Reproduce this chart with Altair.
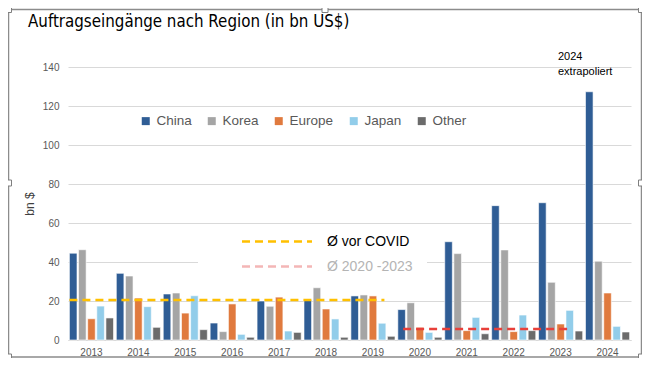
import altair as alt
import pandas as pd

years = ["2013", "2014", "2015", "2016", "2017", "2018", "2019", "2020", "2021", "2022", "2023", "2024"]
regions = ["China", "Korea", "Europe", "Japan", "Other"]
china = [44.5, 34.2, 23.6, 8.7, 20.0, 20.3, 22.6, 15.6, 50.4, 68.9, 70.4, 127.3]
korea = [46.3, 32.8, 24.1, 4.3, 17.3, 26.8, 23.1, 19.1, 44.3, 46.2, 29.6, 40.4]
europe = [10.9, 21.5, 13.8, 18.5, 22.0, 15.9, 22.6, 6.5, 4.8, 4.3, 8.2, 24.1]
japan = [17.4, 17.1, 22.7, 2.9, 4.6, 10.8, 8.6, 3.9, 11.6, 12.8, 15.2, 7.0]
other = [11.3, 6.5, 5.3, 1.4, 3.9, 1.4, 1.9, 1.4, 3.2, 4.8, 4.6, 4.1]
colors = ["#2F5D95", "#A5A5A5", "#E07A3E", "#92CDEA", "#6B6B6B"]
y_ticks = [0, 20, 40, 60, 80, 100, 120, 140]

avg_labels = ["Ø vor COVID", "Ø 2020 -2023"]
avg_values = [20.5, 5.6]
avg_start = ["2013", "2020"]
avg_end = ["2019", "2023"]

series = {"China": china, "Korea": korea, "Europe": europe, "Japan": japan, "Other": other}
rows = []
for r in regions:
    for y, v in zip(years, series[r]):
        rows.append({"year": y, "region": r, "value": v})
df = pd.DataFrame(rows)

FONT = "Liberation Sans"
TFONT = "'DejaVu Sans Condensed', Roboto, sans-serif"
W, H = 563, 273

xscale = alt.Scale(domain=years, paddingInner=0.06, paddingOuter=0.03)
yscale = alt.Scale(domain=[0, 140])
xaxis = alt.Axis(labelAngle=0, ticks=False, domain=True, domainColor="#D9D9D9",
                 labelColor="#595959", labelFontSize=10, labelFont=FONT, labelPadding=7,
                 grid=False)
yaxis = alt.Axis(values=y_ticks, ticks=False, domain=False,
                 gridColor="#D9D9D9", labelColor="#595959", labelFontSize=10,
                 labelFont=FONT, labelPadding=9, titleFont=FONT, titleFontSize=12,
                 titleFontWeight="normal", titleColor="#404040", titlePadding=6)

one = pd.DataFrame({"a": [0]})

box = alt.Chart(one).mark_rect(fill="white").encode(
    x=alt.value(130), x2=alt.value(359), y=alt.value(161), y2=alt.value(213)
)

bars = alt.Chart(df).mark_bar(stroke="white", strokeWidth=0.6).encode(
    x=alt.X("year:N", scale=xscale, title=None, axis=xaxis),
    xOffset=alt.XOffset("region:N", sort=regions, scale=alt.Scale(paddingInner=0.17)),
    y=alt.Y("value:Q", scale=yscale, title="bn $", axis=yaxis),
    color=alt.Color("region:N", sort=regions,
                    scale=alt.Scale(domain=regions, range=colors),
                    legend=alt.Legend(orient="none", legendX=71, legendY=47, direction="horizontal",
                                      title=None, symbolType="square", symbolSize=64,
                                      symbolStrokeWidth=0, labelFontSize=13.5, labelFont=FONT,
                                      labelColor="#595959", columnPadding=13, labelOffset=4)),
)

avg_df = pd.DataFrame({"label": avg_labels, "value": avg_values, "start": avg_start, "end": avg_end})
rule_pre = alt.Chart(avg_df.iloc[[0]]).mark_rule(color="#FFC000", strokeWidth=2.5, strokeDash=[8, 5]).encode(
    x=alt.X("start:N", scale=xscale, bandPosition=0, title=None, axis=xaxis),
    x2=alt.X2("end:N", bandPosition=0.76),
    y=alt.Y("value:Q", scale=yscale, title="bn $", axis=yaxis),
)
rule_post = alt.Chart(avg_df.iloc[[1]]).mark_rule(color="#E8403A", strokeWidth=2.5, strokeDash=[8, 5]).encode(
    x=alt.X("start:N", scale=xscale, bandPosition=0.12, title=None, axis=xaxis),
    x2=alt.X2("end:N", bandPosition=0.7),
    y=alt.Y("value:Q", scale=yscale, title="bn $", axis=yaxis),
)

leg1 = alt.Chart(one).mark_rule(color="#FFC000", strokeWidth=2.5, strokeDash=[8, 5]).encode(
    x=alt.value(174), x2=alt.value(244), y=alt.value(174.5)
)
leg2 = alt.Chart(one).mark_rule(color="#F4B6B6", strokeWidth=2.5, strokeDash=[8, 5]).encode(
    x=alt.value(174), x2=alt.value(244), y=alt.value(199.5)
)
leg1t = alt.Chart(avg_df.iloc[[0]]).mark_text(align="left", baseline="middle", fontSize=14, font=FONT,
                                              color="#000000").encode(
    x=alt.value(259), y=alt.value(174.5), text="label:N"
)
leg2t = alt.Chart(avg_df.iloc[[1]]).mark_text(align="left", baseline="middle", fontSize=14, font=FONT,
                                              color="#B4B4B4").encode(
    x=alt.value(259), y=alt.value(199.5), text="label:N"
)

title = alt.Chart(one).mark_text(align="left", baseline="alphabetic", fontSize=16.8,
                                 font=TFONT, color="#000000").encode(
    x=alt.value(-40), y=alt.value(-40), text=alt.value("Auftragseingänge nach Region (in bn US$)")
)
ann1 = alt.Chart(one).mark_text(align="left", baseline="middle", fontSize=11, font=FONT,
                                color="#000000").encode(
    x=alt.value(490), y=alt.value(-10), text=alt.value("2024")
)
ann2 = alt.Chart(one).mark_text(align="left", baseline="middle", fontSize=11, font=FONT,
                                color="#000000").encode(
    x=alt.value(490), y=alt.value(5), text=alt.value("extrapoliert")
)

frame = alt.Chart(one).mark_rect(fill=None, stroke="#8C8C8C", strokeWidth=1.5).encode(
    x=alt.value(-59.5), x2=alt.value(573.5), y=alt.value(-57.5), y2=alt.value(290)
)

handle_pos = [(-59.5, -57.5), (257, -57.5), (573.5, -57.5),
              (-59.5, 116), (573.5, 116),
              (-59.5, 290), (573.5, 290)]
handles = [
    alt.Chart(one).mark_square(size=36, fill="white", stroke="#7F7F7F", strokeWidth=1,
                               opacity=1, filled=True).encode(x=alt.value(hx), y=alt.value(hy))
    for hx, hy in handle_pos
]

chart = alt.layer(
    box, bars, rule_pre, rule_post, leg1, leg2, leg1t, leg2t, title, ann1, ann2, frame, *handles
).properties(
    width=W, height=H,
    autosize=alt.AutoSizeParams(type="none"),
    padding={"left": 60, "top": 59, "right": 11, "bottom": 18},
).configure_view(stroke=None)

chart.save("out.html", embed_options={"renderer": "svg", "actions": False})
